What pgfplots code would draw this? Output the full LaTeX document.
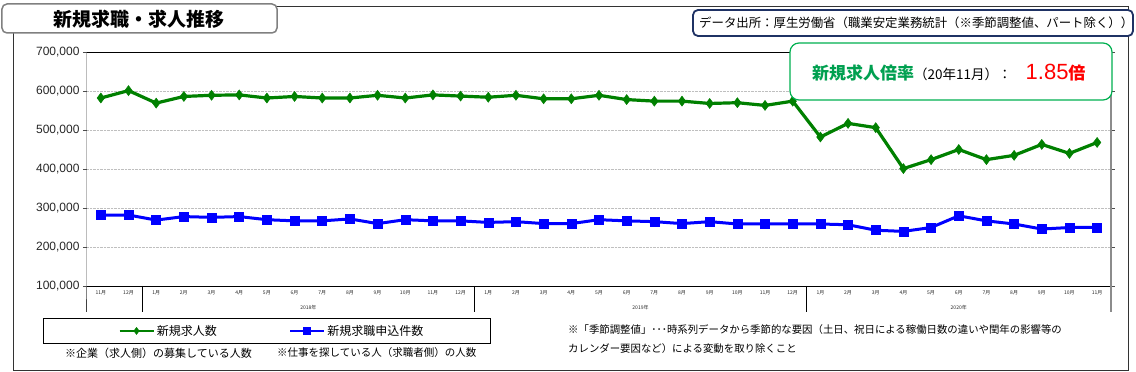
\documentclass[border=0pt]{standalone}
\usepackage{fontspec}
\setmainfont{Liberation Sans}
\newfontfamily\jp{Noto Sans CJK JP}
\usepackage{pgfplots}
\pgfplotsset{compat=1.18}
\usetikzlibrary{calc}
\definecolor{sgreen}{RGB}{0,128,0}
\definecolor{sblue}{RGB}{0,0,255}
\definecolor{tgreen}{RGB}{0,160,80}
\definecolor{bgreen}{RGB}{0,176,80}
\definecolor{navy}{RGB}{31,50,100}
\begin{document}
\begin{tikzpicture}[x=1pt,y=1pt]
\begin{axis}[
  scale only axis, width=1024pt, height=234pt,
  xmin=-0.5, xmax=36.5, ymin=100000, ymax=700000,
  clip=false,
  axis line style={draw=none},
  scaled y ticks=false,
  ytick={100000,200000,...,700000},
  yticklabels={{100,000},{200,000},{300,000},{400,000},{500,000},{600,000},{700,000}},
  yticklabel style={font=\fontsize{12}{12}\selectfont, text=black!85},
  ytick style={draw=black!70, line width=0.6pt},
  tick align=outside,
  major tick length=4pt,
  ymajorgrids,
  major grid style={densely dotted, black!25, line width=0.6pt},
  xtick={0,...,36},
  xticklabels={11月,12月,1月,2月,3月,4月,5月,6月,7月,8月,9月,10月,11月,12月,1月,2月,3月,4月,5月,6月,7月,8月,9月,10月,11月,12月,1月,2月,3月,4月,5月,6月,7月,8月,9月,10月,11月},
  xticklabel style={font=\jp\fontsize{5}{6}\selectfont, text=black!85, yshift=3pt},
  xtick style={draw=none},
  extra x ticks={-0.5,0.5,...,36.5},
  extra x tick labels={},
  extra x tick style={tick style={draw=black, line width=0.6pt}, major tick length=11pt, tick align=outside},
  legend columns=2,
  legend style={draw=none, fill=none, inner sep=0pt, at={(0.0303,-0.192)}, anchor=west,
    font=\jp\fontsize{12}{14}\selectfont, /tikz/every even column/.append style={column sep=70pt}},
  legend cell align=left,
  legend image code/.code={\draw[mark repeat=2,mark phase=2,#1, line width=2.6pt, mark size=3.5pt] plot coordinates {(0pt,0pt) (17pt,0pt) (34pt,0pt)};},
]
\addplot[sgreen, line width=3.2pt, mark=diamond*, mark size=5pt, mark options={solid, line width=0.5pt}] coordinates {
(0,582000) (1,601000) (2,569000) (3,586000) (4,589000) (5,590000) (6,582000) (7,586000) (8,582000) (9,582000)
(10,589000) (11,582000) (12,590000) (13,587000) (14,584000) (15,589000) (16,580000) (17,580000) (18,589000) (19,578000)
(20,574000) (21,574000) (22,568000) (23,570000) (24,563000) (25,574000) (26,482000) (27,517000) (28,506000) (29,401000)
(30,424000) (31,450000) (32,424000) (33,435000) (34,463000) (35,440000) (36,468000)};
\addlegendentry{新規求人数}
\addplot[sblue, line width=3pt, mark=square*, mark size=4.5pt, mark options={solid, line width=0.5pt}] coordinates {
(0,282000) (1,282000) (2,269000) (3,278000) (4,276000) (5,278000) (6,270000) (7,267000) (8,267000) (9,272000)
(10,260000) (11,270000) (12,267000) (13,267000) (14,263000) (15,265000) (16,260000) (17,260000) (18,270000) (19,267000)
(20,265000) (21,260000) (22,265000) (23,259000) (24,259000) (25,259000) (26,259000) (27,257000) (28,243000) (29,240000)
(30,250000) (31,280000) (32,267000) (33,259000) (34,246000) (35,250000) (36,250000)};
\addlegendentry{新規求職申込件数}
\coordinate (A) at (axis cs:-0.5,100000);
\draw[black!75, line width=1pt] (axis cs:-0.5,700000) -- (axis cs:-0.5,100000) -- ++(0pt,-26pt);
\draw[black, line width=0.8pt] (axis cs:-0.5,700000) -- (axis cs:36.5,700000);
\draw[black, line width=0.8pt] (axis cs:-0.5,100000) -- (axis cs:36.5,100000);
\draw[black!45, line width=2.5pt] (axis cs:36.5,700000) -- (axis cs:36.5,100000) -- ++(0pt,-26pt);
\draw[black, line width=0.6pt] (axis cs:1.5,100000) -- ++(0pt,-26pt);
\draw[black, line width=0.6pt] (axis cs:13.5,100000) -- ++(0pt,-26pt);
\draw[black, line width=0.6pt] (axis cs:25.5,100000) -- ++(0pt,-26pt);
\node[font=\jp\fontsize{5}{6}\selectfont, text=black!85] at (axis cs:7.5,100000) [yshift=-22pt] {2018年};
\node[font=\jp\fontsize{5}{6}\selectfont, text=black!85] at (axis cs:19.5,100000) [yshift=-22pt] {2019年};
\node[font=\jp\fontsize{5}{6}\selectfont, text=black!85] at (axis cs:31,100000) [yshift=-22pt] {2020年};
\end{axis}
\begin{scope}[shift={($(A)-(87,86)$)}]
% outer frame
\draw[black!80, line width=1pt] (14,365) rectangle (1128,2);
% legend frame
\draw[black, line width=0.8pt] (43,54) rectangle (490,29);
% title box
\draw[black!50, line width=1.5pt, fill=white, rounded corners=5pt] (2,368) rectangle (277,339);
\node[font=\jp\bfseries\fontsize{19}{20}\selectfont] at (139.5,352.5) {新規求職・求人推移};
% data source box
\draw[navy, line width=1.8pt, fill=white, rounded corners=5pt] (693,362) rectangle (1133,336);
\node[font=\jp\fontsize{12.4}{14}\selectfont, anchor=west, inner sep=0pt] at (699,349) {データ出所：厚生労働省（職業安定業務統計（※季節調整値、パート除く））};
% ratio box
\draw[bgreen, line width=1.2pt, fill=white, rounded corners=9pt] (790,329) rectangle (1112,272);
\node[anchor=base west, inner sep=0pt] at (812,292) {{\jp\bfseries\fontsize{17}{18}\selectfont\color{tgreen}新規求人倍率}{\jp\fontsize{13.5}{14}\selectfont（20年11月）：}\hspace{14pt}{\fontsize{22}{22}\selectfont\color{red}1.85}{\jp\bfseries\fontsize{17}{18}\selectfont\color{red}倍}};
% notes
\node[font=\jp\fontsize{11}{12}\selectfont, anchor=west, inner sep=0pt] at (65,19) {※企業（求人側）の募集している人数};
\node[font=\jp\fontsize{10.5}{12}\selectfont, anchor=west, inner sep=0pt] at (277,19) {※仕事を探している人（求職者側）の人数};
\node[font=\jp\fontsize{10.4}{12}\selectfont, anchor=west, inner sep=0pt] at (568,42) {※「季節調整値」･･･時系列データから季節的な要因（土日、祝日による稼働日数の違いや閏年の影響等の};
\node[font=\jp\fontsize{10.4}{12}\selectfont, anchor=west, inner sep=0pt] at (568,23) {カレンダー要因など）による変動を取り除くこと};
\pgfresetboundingbox
\path (0,0) rectangle (1136,372);
\end{scope}
\end{tikzpicture}
\end{document}
